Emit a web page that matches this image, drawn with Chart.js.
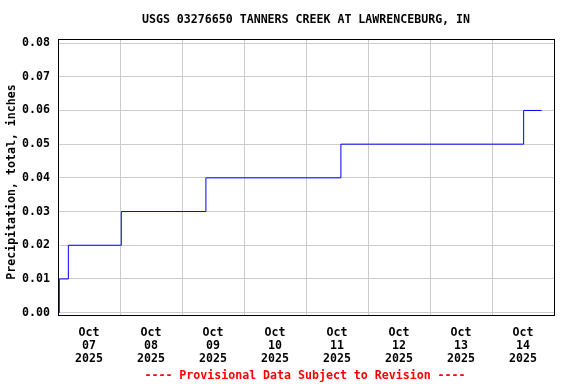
<!DOCTYPE html>
<html>
<head>
<meta charset="utf-8">
<script src="https://cdn.jsdelivr.net/npm/chart.js@4/dist/chart.umd.min.js"></script>
<style>
html,body{margin:0;padding:0;background:#fff;}
#wrap{width:576px;height:384px;}
</style>
</head>
<body>
<div id="wrap"><canvas id="c" width="576" height="384"></canvas></div>
<script>
// ---- data ----
const chartTitle = "USGS 03276650 TANNERS CREEK AT LAWRENCEBURG, IN";
const yAxisTitle = "Precipitation, total, inches";
const footerText = "---- Provisional Data Subject to Revision ----";
const startTime = "2025-10-07T00:00";
const times = ["2025-10-07T00:15","2025-10-07T00:30","2025-10-07T04:00","2025-10-08T00:30","2025-10-09T09:15","2025-10-11T13:30","2025-10-14T12:15","2025-10-14T19:15"];
const precip = [0.00, 0.01, 0.02, 0.03, 0.04, 0.05, 0.06, 0.06];
const dayMonth = ["Oct","Oct","Oct","Oct","Oct","Oct","Oct","Oct"];
const dayNums = ["07","08","09","10","11","12","13","14"];
const dayYear = ["2025","2025","2025","2025","2025","2025","2025","2025"];
const yTicks = [0.00,0.01,0.02,0.03,0.04,0.05,0.06,0.07,0.08];

const FONT = "'DejaVu Sans Mono', monospace";
const t0 = Date.parse(startTime + ":00Z");
const hrs = s => (Date.parse(s + ":00Z") - t0) / 3600000;
const points = times.map((t, i) => ({x: hrs(t), y: precip[i]}));
const nDays = dayNums.length;

const textPlugin = {
  id: 'texts',
  afterDraw(chart) {
    const ctx = chart.ctx, a = chart.chartArea;
    ctx.save();
    ctx.strokeStyle = '#000';
    ctx.lineWidth = 1;
    ctx.strokeRect(Math.round(a.left) + 0.5, Math.round(a.top) + 0.5, Math.round(a.right - a.left), Math.round(a.bottom - a.top));
    ctx.fillStyle = '#000';
    ctx.font = "bold 11.6px " + FONT;
    ctx.textAlign = 'center';
    ctx.textBaseline = 'middle';
    const cx = (a.left + a.right) / 2;
    ctx.fillText(chartTitle, cx, 20);
    ctx.fillStyle = '#ff0000';
    ctx.fillText(footerText, cx - 1, 376);
    ctx.fillStyle = '#000';
    ctx.translate(12, 182);
    ctx.rotate(-Math.PI / 2);
    ctx.fillText(yAxisTitle, 0, 0);
    ctx.restore();
  }
};

new Chart(document.getElementById('c'), {
  type: 'line',
  data: {
    datasets: [{
      data: points,
      borderColor: '#0000ff',
      borderWidth: 1,
      pointRadius: 0,
      stepped: 'before',
      fill: false
    }]
  },
  options: {
    responsive: false,
    animation: false,
    devicePixelRatio: 1,
    layout: {padding: {left: 0, top: 39, right: 22, bottom: 0}},
    plugins: {legend: {display: false}, tooltip: {enabled: false}, title: {display: false}},
    scales: {
      x: {
        type: 'linear',
        min: 0,
        max: nDays * 24,
        afterBuildTicks(scale) {
          const arr = [];
          for (let h = 0; h <= nDays * 24; h += 12) arr.push({value: h});
          scale.ticks = arr;
        },
        afterFit(scale) { scale.height = 69; },
        border: {display: false},
        grid: {
          drawTicks: false,
          color: ctx => (ctx.tick && ctx.tick.value % 24 === 0) ? '#cccccc' : 'rgba(0,0,0,0)',
          lineWidth: 1
        },
        ticks: {
          autoSkip: false,
          maxRotation: 0,
          minRotation: 0,
          padding: 11,
          color: '#000',
          font: {family: FONT, size: 11.6, weight: 'bold', lineHeight: 13 / 11.6},
          callback: v => {
            if (v % 24 === 12) {
              const d = Math.floor(v / 24);
              return [dayMonth[d], dayNums[d], dayYear[d]];
            }
            return '';
          }
        }
      },
      y: {
        min: -0.0007,
        max: 0.0812,
        afterBuildTicks(scale) { scale.ticks = yTicks.map(v => ({value: v})); },
        afterFit(scale) { scale.width = 58; },
        border: {display: false},
        grid: {drawTicks: false, color: '#cccccc', lineWidth: 1},
        ticks: {
          padding: 8,
          color: '#000',
          font: {family: FONT, size: 11.6, weight: 'bold', lineHeight: 1.3},
          callback: v => v.toFixed(2)
        }
      }
    }
  },
  plugins: [textPlugin]
});
</script>
</body>
</html>
